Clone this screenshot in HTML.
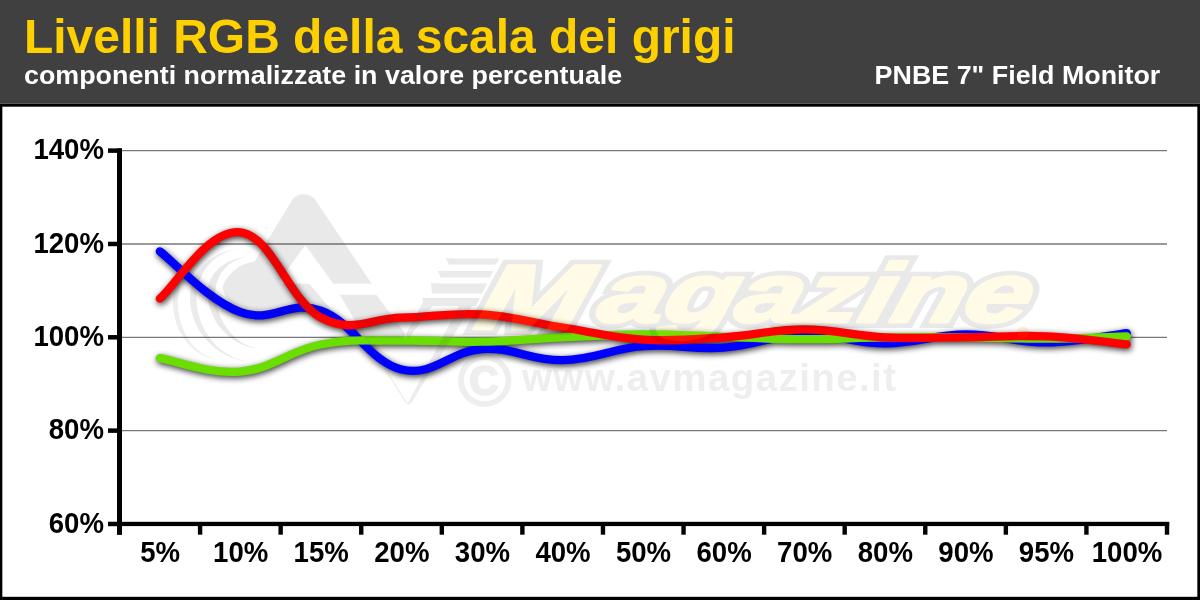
<!DOCTYPE html>
<html><head><meta charset="utf-8"><title>Livelli RGB della scala dei grigi</title>
<style>
html,body{margin:0;padding:0;background:#fff;overflow:hidden}
svg{display:block;font-family:"Liberation Sans",Arial,sans-serif;font-weight:bold}
</style></head><body>
<svg width="1200" height="600" viewBox="0 0 1200 600">
<defs>
<filter id="sh" x="-2%" y="-10%" width="104%" height="125%">
<feGaussianBlur in="SourceAlpha" stdDeviation="3.1"/>
<feOffset dx="1.3" dy="2.3"/>
<feComponentTransfer><feFuncA type="linear" slope="0.8"/></feComponentTransfer>
</filter>
</defs>
<rect x="0" y="0" width="1200" height="600" fill="#000"/>
<rect x="0" y="0" width="1200" height="103" fill="#404040"/>
<rect x="0" y="103" width="1200" height="1" fill="#5c5c5c"/>
<rect x="2.33" y="106.7" width="1195" height="490.1" fill="#fff"/>
<text transform="translate(24,53.1) scale(0.979,1)" font-size="49" fill="#ffd000">Livelli RGB della scala dei grigi</text>
<text transform="translate(24,84.2) scale(1.033,1)" font-size="26" fill="#fff">componenti normalizzate in valore percentuale</text>
<text transform="translate(1160.3,84.2) scale(1.033,1)" font-size="26" fill="#fff" text-anchor="end">PNBE 7" Field Monitor</text>
<g stroke="#787878" stroke-width="1.33"><line x1="122" x2="1167" y1="150.6" y2="150.6"/><line x1="122" x2="1167" y1="244.0" y2="244.0"/><line x1="122" x2="1167" y1="337.3" y2="337.3"/><line x1="122" x2="1167" y1="430.6" y2="430.6"/></g>
<g fill="#000">
<rect x="117" y="148.4" width="5" height="386.3"/>
<rect x="117" y="521.8" width="1052.2" height="4.3"/>
<rect x="108" y="148.38" width="14" height="4.5"/><rect x="108" y="241.72" width="14" height="4.5"/><rect x="108" y="335.05" width="14" height="4.5"/><rect x="108" y="428.38" width="14" height="4.5"/><rect x="108" y="521.72" width="14" height="4.5"/><rect x="117.30" y="522" width="4.4" height="12.7"/><rect x="197.88" y="522" width="4.4" height="12.7"/><rect x="278.45" y="522" width="4.4" height="12.7"/><rect x="359.03" y="522" width="4.4" height="12.7"/><rect x="439.61" y="522" width="4.4" height="12.7"/><rect x="520.18" y="522" width="4.4" height="12.7"/><rect x="600.76" y="522" width="4.4" height="12.7"/><rect x="681.34" y="522" width="4.4" height="12.7"/><rect x="761.92" y="522" width="4.4" height="12.7"/><rect x="842.49" y="522" width="4.4" height="12.7"/><rect x="923.07" y="522" width="4.4" height="12.7"/><rect x="1003.65" y="522" width="4.4" height="12.7"/><rect x="1084.22" y="522" width="4.4" height="12.7"/><rect x="1164.80" y="522" width="4.4" height="12.7"/>
</g>
<g fill="#000" font-size="30"><text transform="translate(104,159.3) scale(0.920,1)" text-anchor="end">140%</text><text transform="translate(104,252.7) scale(0.920,1)" text-anchor="end">120%</text><text transform="translate(104,346.0) scale(0.920,1)" text-anchor="end">100%</text><text transform="translate(104,439.3) scale(0.920,1)" text-anchor="end">80%</text><text transform="translate(104,532.7) scale(0.920,1)" text-anchor="end">60%</text><text transform="translate(160.1,562.2) scale(0.920,1)" text-anchor="middle">5%</text><text transform="translate(240.7,562.2) scale(0.920,1)" text-anchor="middle">10%</text><text transform="translate(321.2,562.2) scale(0.920,1)" text-anchor="middle">15%</text><text transform="translate(401.8,562.2) scale(0.920,1)" text-anchor="middle">20%</text><text transform="translate(482.4,562.2) scale(0.920,1)" text-anchor="middle">30%</text><text transform="translate(563.0,562.2) scale(0.920,1)" text-anchor="middle">40%</text><text transform="translate(643.5,562.2) scale(0.920,1)" text-anchor="middle">50%</text><text transform="translate(724.1,562.2) scale(0.920,1)" text-anchor="middle">60%</text><text transform="translate(804.7,562.2) scale(0.920,1)" text-anchor="middle">70%</text><text transform="translate(885.3,562.2) scale(0.920,1)" text-anchor="middle">80%</text><text transform="translate(965.9,562.2) scale(0.920,1)" text-anchor="middle">90%</text><text transform="translate(1046.4,562.2) scale(0.920,1)" text-anchor="middle">95%</text><text transform="translate(1127.0,562.2) scale(0.920,1)" text-anchor="middle">100%</text></g>
<g fill="none" stroke-width="8.3" stroke-linecap="round" stroke-linejoin="round">
<g filter="url(#sh)" stroke="#000"><path d="M159.8 251.4 C175.9 263.6 208.1 300.2 240.4 312.1 C272.6 324.0 288.7 299.2 320.9 310.7 C353.2 322.2 369.3 361.8 401.5 369.5 C433.8 377.2 449.9 350.8 482.1 349.0 C514.3 347.1 530.4 360.7 562.7 360.2 C594.9 359.6 611.0 348.7 643.2 346.2 C675.5 343.6 691.6 349.9 723.8 347.6 C756.1 345.2 772.2 335.3 804.4 334.5 C836.6 333.7 852.8 343.4 885.0 343.4 C917.2 343.4 933.3 334.7 965.6 334.5 C997.8 334.3 1013.9 342.7 1046.1 342.4 C1078.4 342.2 1110.6 335.0 1126.7 333.1"/><path d="M159.8 358.1 C175.9 360.8 208.1 374.3 240.4 371.6 C272.6 368.9 288.7 350.7 320.9 344.5 C353.2 338.3 369.3 341.1 401.5 340.6 C433.8 340.0 449.9 342.4 482.1 341.7 C514.3 341.1 530.4 338.7 562.7 337.3 C594.9 335.9 611.0 334.6 643.2 334.5 C675.5 334.4 691.6 335.9 723.8 336.8 C756.1 337.8 772.2 339.1 804.4 339.2 C836.6 339.3 852.8 337.7 885.0 337.3 C917.2 336.9 933.3 337.0 965.6 337.3 C997.8 337.6 1013.9 338.9 1046.1 338.7 C1078.4 338.5 1110.6 336.8 1126.7 336.4"/><path d="M159.8 298.6 C175.9 285.3 208.1 228.5 240.4 232.3 C272.6 236.1 288.7 300.4 320.9 317.5 C353.2 334.5 369.3 318.3 401.5 317.7 C433.8 317.1 449.9 312.5 482.1 314.4 C514.3 316.4 530.4 322.5 562.7 327.5 C594.9 332.5 611.0 337.7 643.2 339.6 C675.5 341.6 691.6 339.4 723.8 337.3 C756.1 335.2 772.2 329.4 804.4 329.4 C836.6 329.4 852.8 335.7 885.0 337.3 C917.2 338.9 933.3 337.5 965.6 337.3 C997.8 337.1 1013.9 335.0 1046.1 336.4 C1078.4 337.8 1110.6 342.7 1126.7 344.3"/></g>
<path stroke="#0000ff" d="M159.8 251.4 C175.9 263.6 208.1 300.2 240.4 312.1 C272.6 324.0 288.7 299.2 320.9 310.7 C353.2 322.2 369.3 361.8 401.5 369.5 C433.8 377.2 449.9 350.8 482.1 349.0 C514.3 347.1 530.4 360.7 562.7 360.2 C594.9 359.6 611.0 348.7 643.2 346.2 C675.5 343.6 691.6 349.9 723.8 347.6 C756.1 345.2 772.2 335.3 804.4 334.5 C836.6 333.7 852.8 343.4 885.0 343.4 C917.2 343.4 933.3 334.7 965.6 334.5 C997.8 334.3 1013.9 342.7 1046.1 342.4 C1078.4 342.2 1110.6 335.0 1126.7 333.1"/>
<path stroke="#6ade00" d="M159.8 358.1 C175.9 360.8 208.1 374.3 240.4 371.6 C272.6 368.9 288.7 350.7 320.9 344.5 C353.2 338.3 369.3 341.1 401.5 340.6 C433.8 340.0 449.9 342.4 482.1 341.7 C514.3 341.1 530.4 338.7 562.7 337.3 C594.9 335.9 611.0 334.6 643.2 334.5 C675.5 334.4 691.6 335.9 723.8 336.8 C756.1 337.8 772.2 339.1 804.4 339.2 C836.6 339.3 852.8 337.7 885.0 337.3 C917.2 336.9 933.3 337.0 965.6 337.3 C997.8 337.6 1013.9 338.9 1046.1 338.7 C1078.4 338.5 1110.6 336.8 1126.7 336.4"/>
<path stroke="#ff0000" d="M159.8 298.6 C175.9 285.3 208.1 228.5 240.4 232.3 C272.6 236.1 288.7 300.4 320.9 317.5 C353.2 334.5 369.3 318.3 401.5 317.7 C433.8 317.1 449.9 312.5 482.1 314.4 C514.3 316.4 530.4 322.5 562.7 327.5 C594.9 332.5 611.0 337.7 643.2 339.6 C675.5 341.6 691.6 339.4 723.8 337.3 C756.1 335.2 772.2 329.4 804.4 329.4 C836.6 329.4 852.8 335.7 885.0 337.3 C917.2 338.9 933.3 337.5 965.6 337.3 C997.8 337.1 1013.9 335.0 1046.1 336.4 C1078.4 337.8 1110.6 342.7 1126.7 344.3"/>
</g>
<g id="wm" opacity="0.1">
<path fill="#262626" d="M292.9 199 C297 192.5 310 192.5 314.7 199 L371.7 283.7 L333.3 283.7 L305.3 245 L281.5 278 Q278 283.7 284 283.7 L309.3 283.7 L335 314 L262 314 A39.3 28 0 0 1 222.7 286 A40 40 0 0 1 254.5 261.5 Z"/>
<path fill="#262626" d="M340 294.8 L376.3 294.8 L405.5 334 L403 338 L365 338 Z"/>
<path fill="#262626" d="M254.7 257.3 C228.6 254.3 207.5 272.8 207.5 292.0 C207.5 323.5 234.6 351.0 268.0 349.0 C239.0 351.0 215.5 323.5 215.5 292.0 C215.5 272.8 233.0 254.3 254.7 257.3 Z"/>
<path fill="#333" d="M246.7 249.3 C215.4 246.3 190.0 271.1 190.0 298.0 C190.0 333.3 220.9 364.0 259.0 362.0 C224.5 364.0 196.5 333.3 196.5 298.0 C196.5 271.1 219.0 246.3 246.7 249.3 Z"/>
<path fill="#555" d="M230.0 244.0 C198.5 241.0 173.0 270.4 173.0 303.0 C173.0 334.5 196.7 362.0 226.0 360.0 C199.5 362.0 178.0 334.5 178.0 303.0 C178.0 270.4 201.3 241.0 230.0 244.0 Z"/>
<path fill="none" stroke="#666" stroke-width="1.5" stroke-linejoin="round" d="M366 338 L405.5 401.5 Q408.5 407 411.5 401.5 L446 338"/>
<path fill="#444" d="M405.5 335 L424 300 L437 300 L409 338 Z"/>
<path fill="#444" d="M408 403 L459 306 L472 306 L411 403 Z"/>
<path fill="#2a2a2a" d="M446.0 258.5 L499.0 258.5 L496.0 264.5 L449.0 264.5 Z"/>
<path fill="#2a2a2a" d="M446.0 258.5 L454.0 258.5 L454.0 259.8 L446.0 259.8 Z"/>
<path fill="#2a2a2a" d="M438.0 271.0 L493.0 271.0 L489.8 277.5 L440.8 277.5 Z"/>
<path fill="#2a2a2a" d="M438.0 271.0 L446.0 271.0 L446.0 272.3 L438.0 272.3 Z"/>
<path fill="#2a2a2a" d="M431.0 283.5 L487.0 283.5 L482.0 293.5 L432.0 293.5 Z"/>
<path fill="#2a2a2a" d="M431.0 283.5 L439.0 283.5 L439.0 284.8 L431.0 284.8 Z"/>
<path fill="#2a2a2a" d="M422.0 298.0 L480.0 298.0 L476.0 306.0 L424.0 306.0 Z"/>
<path fill="#2a2a2a" d="M422.0 298.0 L430.0 298.0 L430.0 299.3 L422.0 299.3 Z"/>
<text transform="translate(474,321.7) skewX(-15) scale(1.42,1)" font-size="84" letter-spacing="-0.7" font-style="italic" fill="#1e1e1e" stroke="#1e1e1e" stroke-width="12" stroke-linejoin="miter" stroke-miterlimit="2.5"><tspan font-size="92" dy="7.3">M</tspan><tspan dy="-7.3" dx="9">agazine</tspan></text>
<text transform="translate(474,321.7) skewX(-15) scale(1.42,1)" font-size="84" letter-spacing="-0.7" font-style="italic" fill="#ffd600" stroke="#ffd600" stroke-width="3" stroke-linejoin="round"><tspan font-size="92" dy="7.3">M</tspan><tspan dy="-7.3" dx="9">agazine</tspan></text>
<circle cx="1023" cy="332" r="6" fill="#ff8800"/>
<text x="484.6" y="404.6" font-size="73" text-anchor="middle" fill="#555" stroke="#555" stroke-width="1.6">©</text>
<text x="522" y="391" font-size="38.5" fill="#555" textLength="374" lengthAdjust="spacing">www.avmagazine.it</text>
</g>

</svg>
</body></html>
